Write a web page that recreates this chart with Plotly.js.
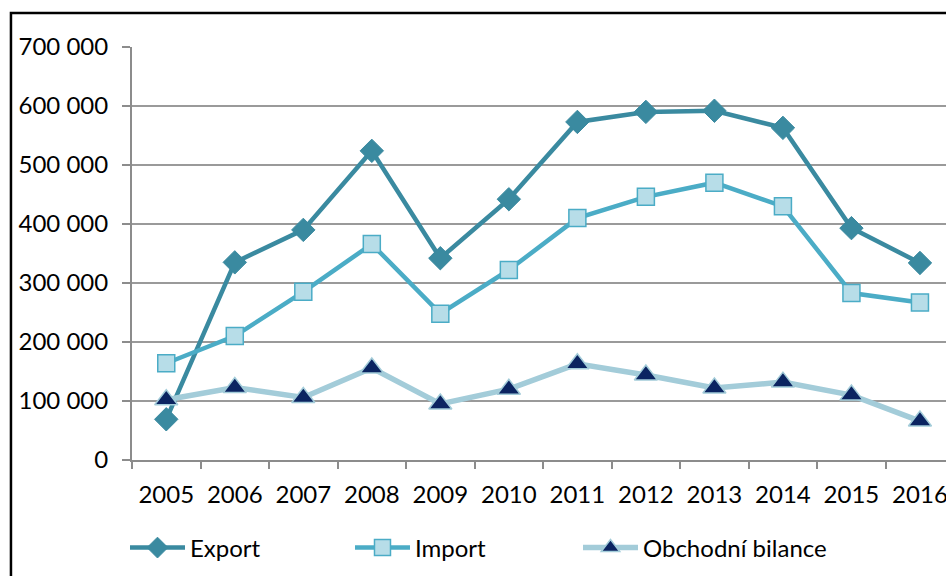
<!DOCTYPE html>
<html>
<head>
<meta charset="utf-8">
<script src="https://cdn.plot.ly/plotly-3.0.1.min.js"></script>
<style>
html,body{margin:0;padding:0;background:#fff;}
#chart{width:946px;height:576px;}
</style>
</head>
<body>
<div id="chart"></div>
<script>
const years = ["2005","2006","2007","2008","2009","2010","2011","2012","2013","2014","2015","2016"];
const exportVals = [69000,335000,390000,524000,342000,442000,573000,590000,592000,563000,393000,334000];
const importVals = [164000,210000,285000,366000,248000,322000,410000,446000,470000,430000,283000,267000];
const bilanceVals = [102000,123000,106000,156000,95000,120000,163000,144000,122000,132000,110000,66000];
const seriesNames = ["Export","Import","Obchodní bilance"];

const FONT = "Lato, 'Open Sans', sans-serif";
const FS = 24;

const traces = [
  {
    x: years, y: exportVals, name: seriesNames[0], type: "scatter", mode: "lines+markers",
    line: {color: "#3A8AA0", width: 4.5},
    marker: {symbol: "diamond", size: 18, color: "#3A8AA0", line: {color: "#3A8AA0", width: 1}},
    cliponaxis: false, legend: "legend"
  },
  {
    x: years, y: importVals, name: seriesNames[1], type: "scatter", mode: "lines+markers",
    line: {color: "#4BACC6", width: 4.5},
    marker: {symbol: "square", size: 17, color: "#B7DDE8", line: {color: "#4BACC6", width: 1.5}},
    cliponaxis: false, legend: "legend2"
  },
  {
    x: years, y: bilanceVals, name: seriesNames[2], type: "scatter", mode: "lines+markers",
    line: {color: "#A3CCD9", width: 5.5},
    marker: {symbol: "triangle-up", size: 20, color: "#0B2461", line: {color: "#A3CCD9", width: 1.5}},
    cliponaxis: false, legend: "legend3"
  }
];

function legendAt(xp) {
  return {
    orientation: "h",
    x: xp, xanchor: "left",
    y: -0.213, yanchor: "middle",
    itemwidth: 55,
    font: {family: FONT, size: FS, color: "#000"},
    bgcolor: "rgba(0,0,0,0)"
  };
}

const layout = {
  width: 946, height: 576,
  margin: {l: 132, r: 0, t: 47, b: 116},
  paper_bgcolor: "#ffffff", plot_bgcolor: "#ffffff",
  separators: ", ",
  font: {family: FONT, size: FS, color: "#000000"},
  showlegend: true,
  hovermode: false,
  xaxis: {
    type: "category",
    range: [-0.5, 11.38],
    showgrid: false,
    showline: true, linecolor: "#8C8C8C", linewidth: 2,
    ticks: "outside", tickson: "boundaries", ticklen: 7, tickwidth: 2, tickcolor: "#8C8C8C",
    ticklabelstandoff: 12,
    tickfont: {family: FONT, size: FS, color: "#000"},
    zeroline: false, fixedrange: true
  },
  yaxis: {
    range: [0, 700000],
    tickvals: [0,100000,200000,300000,400000,500000,600000,700000],
    tickformat: ",d",
    showgrid: true, gridcolor: "#9A9A9A", gridwidth: 2,
    showline: true, linecolor: "#8C8C8C", linewidth: 2,
    ticks: "outside", ticklen: 8, tickwidth: 2, tickcolor: "#8C8C8C",
    ticklabelstandoff: 9,
    tickfont: {family: FONT, size: FS, color: "#000"},
    zeroline: false, fixedrange: true
  },
  legend: legendAt(-0.0086),
  legend2: legendAt(0.2678),
  legend3: legendAt(0.5479),
  shapes: [
    {type: "rect", xref: "paper", yref: "paper",
     x0: -0.1487, x1: 1.2, y0: -0.5, y1: 1.0823,
     line: {color: "#000000", width: 2.5}, fillcolor: "rgba(0,0,0,0)", layer: "below"}
  ]
};

Plotly.newPlot("chart", traces, layout, {staticPlot: true, displayModeBar: false});
</script>
</body>
</html>
